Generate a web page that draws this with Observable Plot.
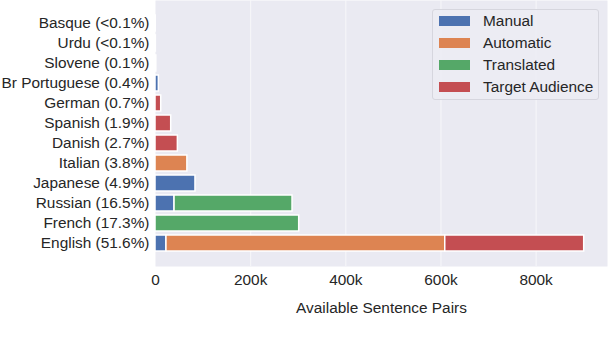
<!DOCTYPE html>
<html><head><meta charset="utf-8">
<script src="https://cdn.jsdelivr.net/npm/d3@7"></script>
<script src="https://cdn.jsdelivr.net/npm/@observablehq/plot@0.6"></script>
<style>
body{margin:0;background:#fff;font-family:"Liberation Sans",Arial,sans-serif;}
#wrap{position:relative;width:608px;height:348px;}
.legend{position:absolute;left:432px;top:9px;width:167px;height:91px;border:1px solid #d6d6de;border-radius:3px;background:rgba(236,236,243,0.85);box-sizing:border-box;}
.row{position:absolute;left:0;height:20px;display:flex;align-items:center;font-size:15.4px;color:#262626;white-space:nowrap;}
.sw{width:31px;height:10px;margin-left:6px;margin-right:13px;flex:none;}
</style>
</head><body>
<div id="wrap"></div>
<script>
const languages = ["Basque (<0.1%)", "Urdu (<0.1%)", "Slovene (0.1%)", "Br Portuguese (0.4%)", "German (0.7%)", "Spanish (1.9%)", "Danish (2.7%)", "Italian (3.8%)", "Japanese (4.9%)", "Russian (16.5%)", "French (17.3%)", "English (51.6%)"];
const types = ["Manual", "Automatic", "Translated", "Target Audience"];
const colors = ["#4c72b0", "#dd8452", "#55a868", "#c44e52"];
const manual     = [500, 800, 1700, 7000, 0, 0, 0, 0, 84000, 40000, 0, 23000];
const automatic  = [0, 0, 0, 0, 0, 0, 0, 67000, 0, 0, 0, 586000];
const translated = [0, 0, 0, 0, 0, 0, 0, 0, 0, 248000, 302000, 0];
const target     = [0, 0, 0, 0, 12000, 33000, 47000, 0, 0, 0, 0, 292000];
const xTicks = [0, 200000, 400000, 600000, 800000];

const series = [manual, automatic, translated, target];
const rows = [];
languages.forEach((lang, i) => {
  types.forEach((t, j) => {
    if (series[j][i] > 0) rows.push({language: lang, type: t, value: series[j][i]});
  });
});

const chart = Plot.plot({
  width: 608,
  height: 348,
  marginLeft: 155,
  marginRight: 1,
  marginTop: 0,
  marginBottom: 82,
  style: {fontFamily: '"Liberation Sans", Arial, sans-serif', fontSize: "15.4px", color: "#262626", background: "transparent"},
  x: {domain: [0, 950000]},
  y: {domain: languages, paddingInner: 0.2, paddingOuter: 0.6},
  color: {domain: types, range: colors},
  marks: [
    Plot.frame({fill: "#eaeaf2", stroke: null}),
    Plot.gridX(xTicks.slice(1), {stroke: "#f7f7fa", strokeOpacity: 1, strokeWidth: 1}),
    Plot.barX(rows, Plot.stackX({x: "value", y: "language", fill: "type", order: types, stroke: "white", strokeWidth: 1.5})),
    Plot.axisX(xTicks, {tickSize: 0, tickPadding: 8, fontSize: 15.4, tickFormat: d => d === 0 ? "0" : (d / 1000) + "k", label: "Available Sentence Pairs", labelAnchor: "center", labelArrow: "none", labelOffset: 46}),
    Plot.axisY({tickSize: 0, tickPadding: 6, fontSize: 15.4, label: null})
  ]
});
const wrap = document.getElementById("wrap");
wrap.appendChild(chart);

const leg = document.createElement("div");
leg.className = "legend";
types.forEach((t, i) => {
  const r = document.createElement("div");
  r.className = "row";
  r.style.top = (1 + i * 22) + "px";
  r.innerHTML = `<span class="sw" style="background:${colors[i]}"></span><span>${t}</span>`;
  leg.appendChild(r);
});
wrap.appendChild(leg);
</script>
</body></html>
